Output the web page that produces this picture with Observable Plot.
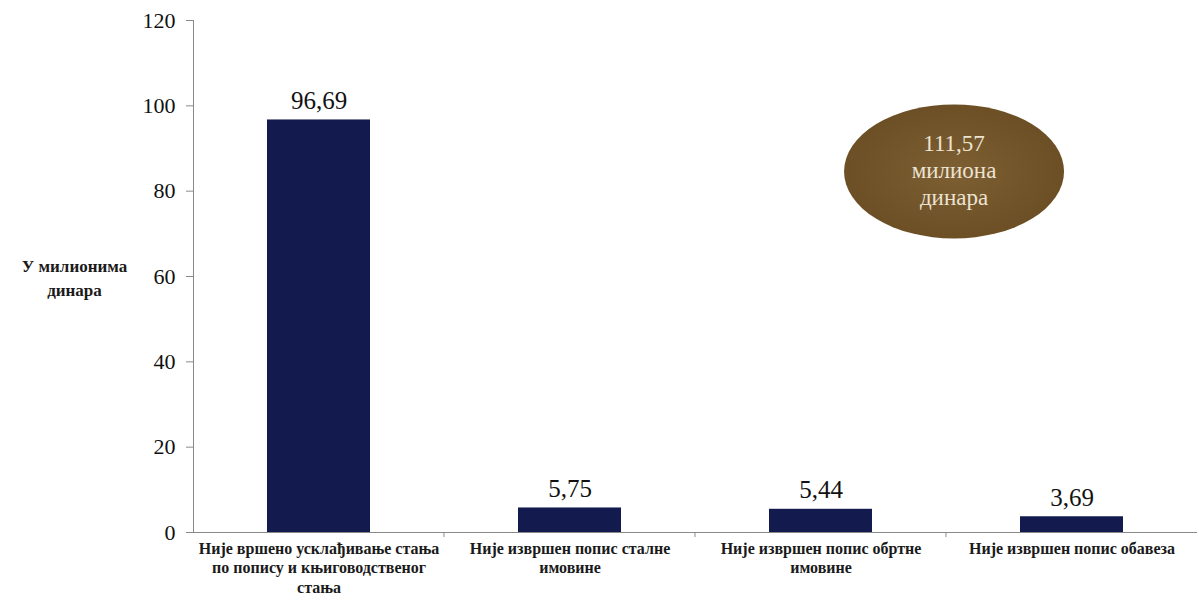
<!DOCTYPE html>
<html><head><meta charset="utf-8">
<script src="https://cdn.jsdelivr.net/npm/d3@7"></script>
<script src="https://cdn.jsdelivr.net/npm/@observablehq/plot@0.6"></script>
<style>body{margin:0;background:#fff}</style>
</head><body><div id="chart"></div>
<script>
const categories = [
  "Није вршено усклађивање стања по попису и књиговодственог стања",
  "Није извршен попис сталне имовине",
  "Није извршен попис обртне имовине",
  "Није извршен попис обавеза"
];
const tickLabels = [
  "Није вршено усклађивање стања\nпо попису и књиговодственог\nстања",
  "Није извршен попис сталне\nимовине",
  "Није извршен попис обртне\nимовине",
  "Није извршен попис обавеза"
];
const values = [96.69, 5.75, 5.44, 3.69];
const yTicks = [0, 20, 40, 60, 80, 100, 120];
const yLabel = "У милионима\nдинара";
const totalValue = 111.57;
const totalUnit = ["милиона", "динара"];
const yLabelAt = 60;
const ovalAt = 84.5;

const fmt = d3.formatLocale({decimal: ",", thousands: ".", grouping: [3], currency: ["", ""]}).format(".2f");
const data = categories.map((c, i) => ({cat: c, label: tickLabels[i], value: values[i]}));
const labelOf = new Map(data.map(d => [d.cat, d.label]));

const W = 1199, H = 604;
const plot = Plot.plot({
  width: W, height: H,
  marginLeft: 193, marginRight: 2, marginTop: 20, marginBottom: 72,
  style: {fontFamily: "'Liberation Serif', serif", fontSize: "22px", color: "#111", background: "#fff"},
  x: {domain: categories, paddingInner: 0.59, paddingOuter: 0.295},
  y: {domain: [0, 120]},
  marks: [
    Plot.frame({anchor: "left", stroke: "#8a8a8a"}),
    Plot.ruleY([0], {stroke: "#8a8a8a"}),
    Plot.barY(data, {x: "cat", y: "value", fill: "#121a4e"}),
    Plot.text(data, {x: "cat", y: "value", text: d => fmt(d.value), lineAnchor: "bottom", dy: -11, fontSize: 25, fill: "#111"}),
    Plot.axisY({ticks: yTicks, tickSize: 7, tickPadding: 11, fontSize: 22, stroke: "#8a8a8a", fill: "#111", label: null}),
    Plot.axisX({tickSize: 0, tickPadding: 8, tickFormat: d => labelOf.get(d), fontSize: 16, fontWeight: "bold",
      fontFamily: "'Liberation Serif', serif", lineHeight: 1.2, fill: "#1a1a1a", label: null}),
    Plot.text([yLabel], {frameAnchor: "left", y: () => yLabelAt, text: d => d, dx: -119, textAnchor: "middle",
      fontFamily: "'Liberation Serif', serif", fontWeight: "bold", fontSize: 17, lineHeight: 1.4, fill: "#1a1a1a"})
  ]
});
document.getElementById("chart").append(plot);

// band boundary ticks and total annotation positioned through the scales
const xs = plot.scale("x"), ys = plot.scale("y");
const svg = d3.select(plot);
const x0 = xs.apply(categories[0]) - xs.step * xs.paddingOuter;
const y0 = ys.apply(0);
for (let i = 1; i < categories.length; i++) {
  const bx = x0 + i * xs.step;
  svg.append("line").attr("x1", bx).attr("x2", bx).attr("y1", y0).attr("y2", y0 + 5).attr("stroke", "#8a8a8a");
}
const defs = svg.append("defs");
const g = defs.append("radialGradient").attr("id", "oval");
g.append("stop").attr("offset", "0%").attr("stop-color", "#7d5f33");
g.append("stop").attr("offset", "100%").attr("stop-color", "#6c4f25");
const cx = xs.apply(categories[2]) + xs.bandwidth + xs.step * xs.paddingInner / 2 + 8;
const cy = ys.apply(ovalAt);
svg.append("ellipse").attr("cx", cx).attr("cy", cy).attr("rx", 110).attr("ry", 67).attr("fill", "url(#oval)");
const t = svg.append("text").attr("x", cx).attr("y", cy).attr("text-anchor", "middle")
  .attr("font-family", "'Liberation Serif', serif").attr("font-size", 23).attr("fill", "#ece3d1");
[fmt(totalValue), ...totalUnit].forEach((s, i) => {
  t.append("tspan").attr("x", cx).attr("dy", i === 0 ? -27 + 7 : 27).text(s);
});
</script>
</body></html>
